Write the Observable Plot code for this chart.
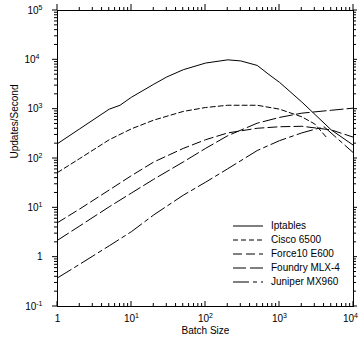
<!DOCTYPE html>
<html><head><meta charset="utf-8">
<script src="https://cdn.jsdelivr.net/npm/d3@7"></script>
<script src="https://cdn.jsdelivr.net/npm/@observablehq/plot@0.6"></script>
<style>body{margin:0;background:#fff}</style>
</head><body><div id="chart"></div>
<script>
// ---- data ----
const seriesNames = ["Iptables", "Cisco 6500", "Force10 E600", "Foundry MLX-4", "Juniper MX960"];

const iptablesX = [1, 2, 5, 7, 10, 20, 30, 50, 100, 200, 300, 500, 700, 1000, 2000, 5000, 10000];
const iptablesY = [200, 400, 1000, 1200, 1750, 3200, 4500, 6300, 8600, 10000, 9500, 7700, 5200, 3500, 1400, 380, 185];

const ciscoX = [1, 2, 5, 10, 20, 50, 100, 200, 500, 1000, 2000, 3000, 4500];
const ciscoY = [52, 100, 240, 400, 600, 900, 1080, 1200, 1200, 1000, 700, 500, 250];

const force10X = [1, 2, 5, 10, 20, 50, 100, 200, 500, 1000, 2000, 5000, 10000];
const force10Y = [5, 9.5, 23, 45, 85, 160, 240, 330, 410, 440, 450, 380, 270];

const foundryX = [1, 2, 5, 10, 20, 50, 100, 200, 500, 1000, 2000, 5000, 10000];
const foundryY = [2.2, 4.3, 10.5, 20, 38, 85, 160, 290, 520, 680, 830, 950, 1050];

const juniperX = [1, 2, 5, 10, 20, 50, 100, 200, 500, 1000, 2000, 4000, 10000];
const juniperY = [0.38, 0.72, 1.7, 3.3, 7.2, 18, 33, 62, 145, 230, 330, 440, 130];

const xTickValues = [1, 10, 100, 1000, 10000];
const xTickLabels = ["1", "10^1", "10^2", "10^3", "10^4"];
const yTickValues = [0.1, 1, 10, 100, 1000, 10000, 100000];
const yTickLabels = ["10^-1", "1", "10^1", "10^2", "10^3", "10^4", "10^5"];

// ---- helpers ----
function minorTicks(lo, hi) {
  const out = [];
  for (let e = lo; e < hi; e++) for (let m = 2; m <= 9; m++) out.push(m * Math.pow(10, e));
  return out;
}
const xMinor = minorTicks(0, 4);
const yMinor = minorTicks(-1, 5);

const rows = (xs, ys) => xs.map((x, i) => ({x, y: ys[i]}));
const series = [
  {name: seriesNames[0], data: rows(iptablesX, iptablesY), dash: null},
  {name: seriesNames[1], data: rows(ciscoX, ciscoY), dash: "5,3"},
  {name: seriesNames[2], data: rows(force10X, force10Y), dash: "9,4"},
  {name: seriesNames[3], data: rows(foundryX, foundryY), dash: "13,4"},
  {name: seriesNames[4], data: rows(juniperX, juniperY), dash: "16,4,4,4"}
];

const W = 359, H = 343, mT = 10, mR = 6, mB = 37, mL = 57;

const chartSvg = Plot.plot({
  width: W, height: H,
  marginTop: mT, marginRight: mR, marginBottom: mB, marginLeft: mL,
  style: {fontFamily: "'Liberation Sans', Arial, Helvetica, sans-serif", fontSize: "10px", background: "white"},
  x: {type: "log", domain: [1, 1e4], axis: null},
  y: {type: "log", domain: [0.1, 1e5], axis: null},
  marks: [
    Plot.frame({stroke: "black", strokeWidth: 1}),
    ...series.map(s => Plot.line(s.data, {x: "x", y: "y", stroke: "black", strokeWidth: 1, strokeDasharray: s.dash})),
    // tick labels
    Plot.text(xTickValues, {x: d => d, text: (d, i) => xTickLabels[i], frameAnchor: "bottom", dy: 15, fontSize: 10, fill: "black"}),
    Plot.text(yTickValues, {y: d => d, text: (d, i) => yTickLabels[i], frameAnchor: "left", dx: -15, textAnchor: "end", fontSize: 10, fill: "black"}),
    // axis titles
    Plot.text(["Batch Size"], {text: d => d, frameAnchor: "bottom", dy: 27, fontSize: 10, fill: "black"}),
    Plot.text(["Updates/Second"], {text: d => d, frameAnchor: "left", dx: -43, rotate: -90, fontSize: 10, fill: "black"})
  ]
});

// superscripts for "10^n" labels
d3.select(chartSvg).selectAll("text").each(function() {
  const t = this.textContent;
  if (t.includes("^")) {
    const [base, exp] = t.split("^");
    const el = d3.select(this);
    el.text(null);
    el.append("tspan").text(base);
    el.append("tspan").attr("dy", -4).attr("font-size", 7).text(exp);
    // keep the rightmost x label inside the picture
    if (t === xTickLabels[xTickLabels.length - 1]) el.attr("transform", (el.attr("transform") || "") + " translate(-3,0)");
  }
});

// ticks on all four sides, positioned with Plot's own scales
const sx = chartSvg.scale("x"), sy = chartSvg.scale("y");
const px = v => sx.apply(v), py = v => sy.apply(v);
const fLeft = mL, fRight = W - mR, fTop = mT, fBottom = H - mB;
const tg = d3.select(chartSvg).append("g").attr("stroke", "black").attr("stroke-width", 1);
function seg(x1, y1, x2, y2) { tg.append("line").attr("x1", x1).attr("y1", y1).attr("x2", x2).attr("y2", y2); }
xTickValues.forEach(v => { const x = px(v); seg(x, fBottom, x, fBottom - 5); seg(x, fTop, x, fTop - 6); });
xMinor.forEach(v => { const x = px(v); seg(x, fBottom, x, fBottom - 3); seg(x, fTop + 1, x, fTop - 3); });
yTickValues.forEach(v => { const y = py(v); seg(fLeft, y, fLeft - 5, y); seg(fRight, y, fRight + 4, y); });
yMinor.forEach(v => { const y = py(v); seg(fLeft, y, fLeft - 3, y); seg(fRight, y, fRight + 3, y); });

// legend
const lg = d3.select(chartSvg).append("g").attr("font-size", 10).attr("text-anchor", "start");
series.forEach((s, i) => {
  const y = 226 + i * 14;
  lg.append("line").attr("x1", 233).attr("x2", 263).attr("y1", y).attr("y2", y)
    .attr("stroke", "black").attr("stroke-width", 1).attr("stroke-dasharray", s.dash);
  lg.append("text").attr("x", 271).attr("y", y).attr("dy", "0.33em").attr("fill", "black").attr("text-anchor", "start").text(s.name);
});

document.getElementById("chart").appendChild(chartSvg);
</script>
</body></html>
